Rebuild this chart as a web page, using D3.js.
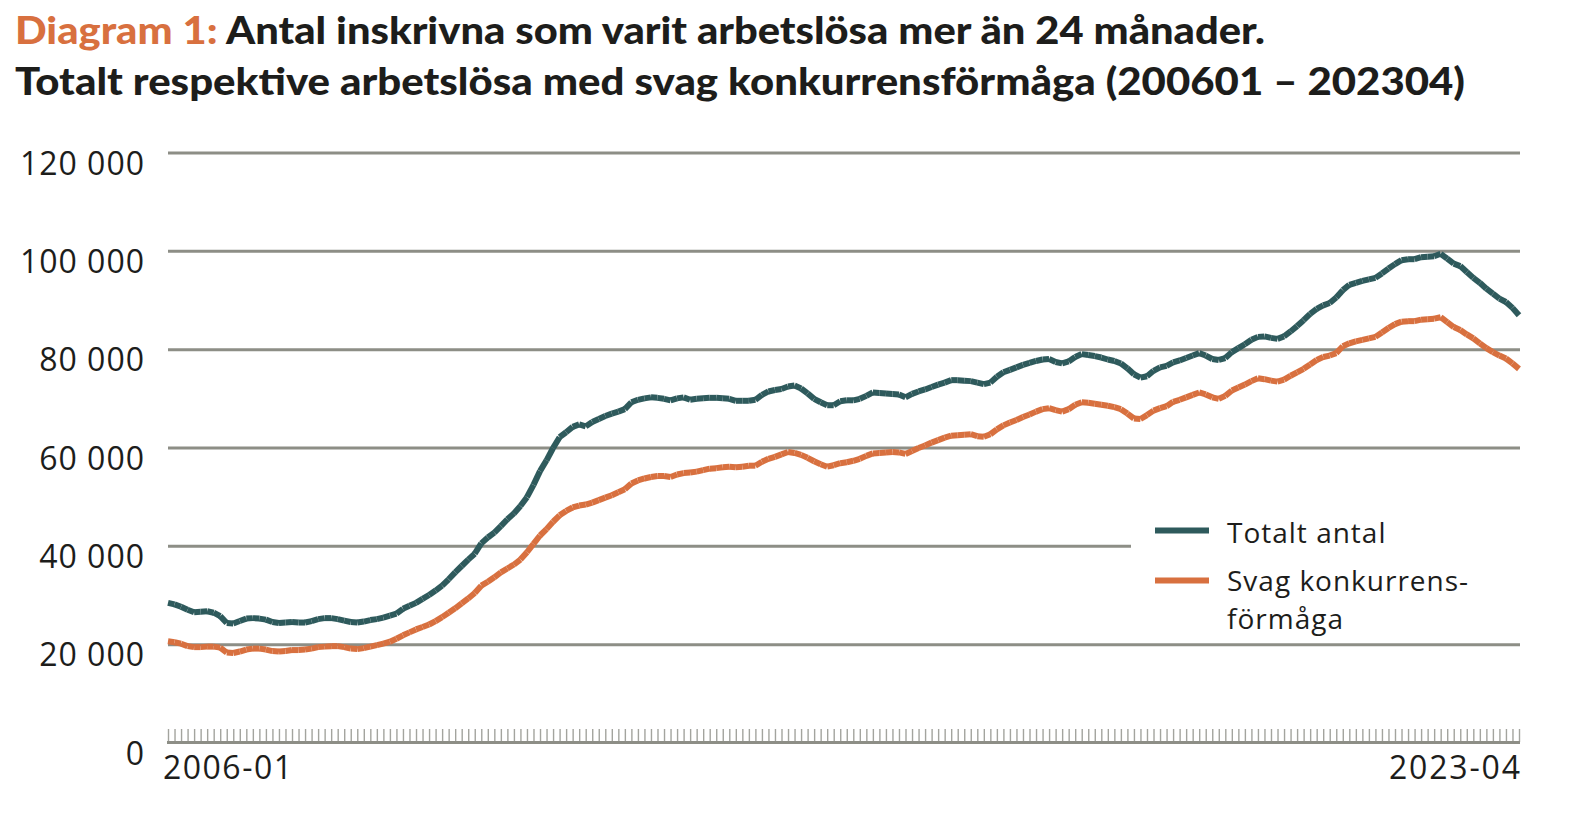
<!DOCTYPE html>
<html>
<head>
<meta charset="utf-8">
<script src="https://cdn.jsdelivr.net/npm/d3@7"></script>
<style>
  html, body { margin: 0; padding: 0; background: #ffffff; }
  svg { display: block; }
</style>
</head>
<body>
<svg id="chart" width="1570" height="814"></svg>
<script>
// ---------- DATA ----------
const startYear = 2006, startMonth = 1, monthCount = 208; // 2006-01 .. 2023-04
const tickLabels = ["2006-01", "2023-04"];
const yTicks = [0, 20000, 40000, 60000, 80000, 100000, 120000];
const seriesNames = ["Totalt antal", "Svag konkurrens-förmåga"];

const totalt = [
  28500,28200,27700,27100,26600,26700,26800,26500,25800,24400,24300,24800,
  25300,25400,25300,25100,24600,24400,24500,24600,24500,24500,24800,25200,
  25400,25400,25200,24900,24600,24500,24700,25000,25200,25500,25900,26300,
  27300,27900,28500,29300,30100,31000,32000,33300,34700,36000,37300,38500,
  40600,41800,42800,44100,45500,46700,48200,50000,52500,55300,57500,60000,
  62200,63200,64300,64800,64400,65300,65900,66500,67000,67400,67900,69300,
  69800,70100,70300,70200,70000,69700,70100,70300,69800,70000,70100,70200,
  70200,70100,70000,69600,69600,69600,69800,70800,71500,71800,72000,72500,
  72700,72100,71100,70000,69300,68700,68700,69500,69700,69700,70000,70600,
  71300,71200,71100,71000,70900,70300,71000,71500,71900,72400,72900,73300,
  73800,73800,73700,73600,73300,73000,73300,74500,75400,75900,76400,76900,
  77300,77700,78000,78100,77500,77200,77600,78500,79100,78900,78700,78400,
  78000,77700,77200,76200,75000,74300,74600,75700,76400,76700,77400,77800,
  78300,78800,79300,78800,78100,77900,78300,79500,80300,81100,82000,82600,
  82700,82400,82200,82700,83700,84800,86000,87300,88300,89000,89500,90600,
  92100,93200,93600,94000,94300,94600,95500,96500,97400,98200,98400,98400,
  98800,98900,99000,99500,98500,97500,97000,95800,94600,93600,92400,91400,
  90400,89700,88500,87000
];

const svag = [
  20700,20500,20200,19700,19500,19500,19600,19600,19400,18400,18300,18600,
  19000,19200,19200,19000,18700,18600,18700,18900,18900,19000,19200,19500,
  19600,19700,19700,19500,19200,19100,19300,19600,19900,20200,20600,21200,
  21900,22500,23100,23600,24100,24800,25600,26500,27400,28400,29400,30500,
  32000,32800,33700,34700,35500,36300,37300,38800,40500,42200,43500,45000,
  46300,47200,47900,48300,48500,48900,49400,49900,50400,51000,51600,52800,
  53400,53800,54100,54300,54300,54100,54600,54900,55000,55200,55500,55800,
  55900,56100,56200,56100,56200,56400,56400,57200,57800,58200,58700,59200,
  59000,58600,58000,57300,56700,56200,56500,56900,57100,57400,57800,58400,
  58900,59000,59100,59200,59100,58800,59400,60000,60500,61100,61600,62100,
  62500,62600,62700,62800,62400,62300,62800,63800,64600,65200,65700,66300,
  66800,67400,67900,68100,67700,67400,67900,68800,69300,69200,69000,68800,
  68600,68300,67900,67000,66000,65900,66700,67600,68100,68500,69400,69800,
  70300,70800,71300,70900,70300,70000,70600,71700,72300,72900,73600,74200,
  74000,73700,73500,73900,74700,75400,76100,77000,77900,78500,78800,79300,
  80700,81300,81700,82000,82300,82600,83500,84400,85200,85700,85800,85800,
  86100,86200,86300,86600,85600,84600,84000,83100,82300,81300,80300,79500,
  78800,78200,77200,76100
];

// month category labels
const months = d3.range(monthCount).map(i => {
  const m = (startMonth - 1 + i);
  const y = startYear + Math.floor(m / 12);
  const mm = (m % 12) + 1;
  return y + "-" + String(mm).padStart(2, "0");
});

// ---------- STYLE ----------
const teal = "#2e5a5c";
const orange = "#d8703f";
const grid = "#8d8e86";
const tickCol = "#a3a49e";
const textCol = "#1d1d1b";

const svg = d3.select("#chart");

const x = d3.scalePoint().domain(months).range([168, 1519]);
const y = d3.scaleLinear().domain([0, 120000]).range([743, 153]);

// ---------- TITLE ----------
const t1 = svg.append("text")
  .attr("x", 15).attr("y", 44)
  .attr("font-family", "Lato, 'Open Sans', sans-serif")
  .attr("font-weight", 900)
  .attr("font-size", 37)
  .attr("textLength", 1250)
  .attr("lengthAdjust", "spacingAndGlyphs");
t1.append("tspan").attr("fill", orange).text("Diagram 1:");
t1.append("tspan").attr("fill", textCol).text(" Antal inskrivna som varit arbetslösa mer än 24 månader.");

svg.append("text")
  .attr("x", 15).attr("y", 95)
  .attr("font-family", "Lato, 'Open Sans', sans-serif")
  .attr("font-weight", 900)
  .attr("font-size", 37)
  .attr("fill", textCol)
  .attr("textLength", 1450)
  .attr("lengthAdjust", "spacingAndGlyphs")
  .text("Totalt respektive arbetslösa med svag konkurrensförmåga (200601 – 202304)");

// ---------- GRID ----------
const gridG = svg.append("g");
gridG.selectAll("line")
  .data(yTicks.filter(d => d > 0))
  .join("line")
  .attr("x1", 168)
  .attr("x2", d => d === 40000 ? 1131 : 1520)
  .attr("y1", d => y(d)).attr("y2", d => y(d))
  .attr("stroke", grid)
  .attr("stroke-width", 3);

// y labels
const yAxis = d3.axisLeft(y).tickValues(yTicks)
  .tickFormat(d => d3.format(",")(d).replace(/,/g, " "))
  .tickSize(0).tickPadding(0);
const yG = svg.append("g").attr("transform", "translate(145,0)").call(yAxis);
yG.select(".domain").remove();
yG.selectAll("text")
  .attr("font-family", "'Open Sans', sans-serif")
  .attr("font-size", 32)
  .attr("letter-spacing", 1)
  .attr("fill", textCol)
  .attr("dy", 21)
  .attr("text-anchor", "end");

// ---------- X AXIS ----------
const xAxis = d3.axisTop(x).tickSize(13).tickFormat("");
const xG = svg.append("g").attr("transform", "translate(0,742)").call(xAxis);
xG.select(".domain").remove();
xG.selectAll(".tick line").attr("stroke", tickCol).attr("stroke-width", 1.4);
svg.append("line")
  .attr("x1", x(months[0]) - 1).attr("x2", x(months[monthCount - 1]) + 1)
  .attr("y1", 742.5).attr("y2", 742.5)
  .attr("stroke", grid).attr("stroke-width", 3);

svg.append("text")
  .attr("x", x(tickLabels[0]) - 5).attr("y", 779)
  .attr("font-family", "'Open Sans', sans-serif").attr("font-size", 32)
  .attr("textLength", 129).attr("lengthAdjust", "spacing")
  .attr("fill", textCol).text(tickLabels[0]);
svg.append("text")
  .attr("x", x(tickLabels[1]) + 1 - 131).attr("y", 779)
  .attr("font-family", "'Open Sans', sans-serif").attr("font-size", 32)
  .attr("textLength", 131).attr("lengthAdjust", "spacing")
  .attr("fill", textCol).text(tickLabels[1]);

// ---------- LINES (segment by segment) ----------
const line = d3.line().x(d => x(d.m)).y(d => y(d.v));
function drawSeries(values, color) {
  const pts = values.map((v, i) => ({ m: months[i], v }));
  const segs = d3.range(pts.length - 1).map(i => [pts[i], pts[i + 1]]);
  svg.append("g").selectAll("path")
    .data(segs).join("path")
    .attr("d", line)
    .attr("fill", "none")
    .attr("stroke", color)
    .attr("stroke-width", 6)
    .attr("stroke-linecap", "butt");
}
drawSeries(totalt, teal);
drawSeries(svag, orange);

// ---------- LEGEND ----------
const lg = svg.append("g");
lg.append("line").attr("x1", 1155).attr("x2", 1209).attr("y1", 530.5).attr("y2", 530.5)
  .attr("stroke", teal).attr("stroke-width", 6);
lg.append("line").attr("x1", 1155).attr("x2", 1209).attr("y1", 580.5).attr("y2", 580.5)
  .attr("stroke", orange).attr("stroke-width", 6);
lg.append("text").attr("x", 1227).attr("y", 543)
  .attr("font-family", "'Open Sans', sans-serif").attr("font-size", 28)
  .attr("letter-spacing", 1)
  .attr("fill", textCol).text(seriesNames[0]);
const lt = lg.append("text").attr("x", 1227).attr("y", 591)
  .attr("font-family", "'Open Sans', sans-serif").attr("font-size", 28)
  .attr("letter-spacing", 1)
  .attr("fill", textCol);
lt.append("tspan").attr("x", 1227).attr("y", 591).text("Svag konkurrens-");
lt.append("tspan").attr("x", 1227).attr("y", 629).text("förmåga");
</script>
</body>
</html>
